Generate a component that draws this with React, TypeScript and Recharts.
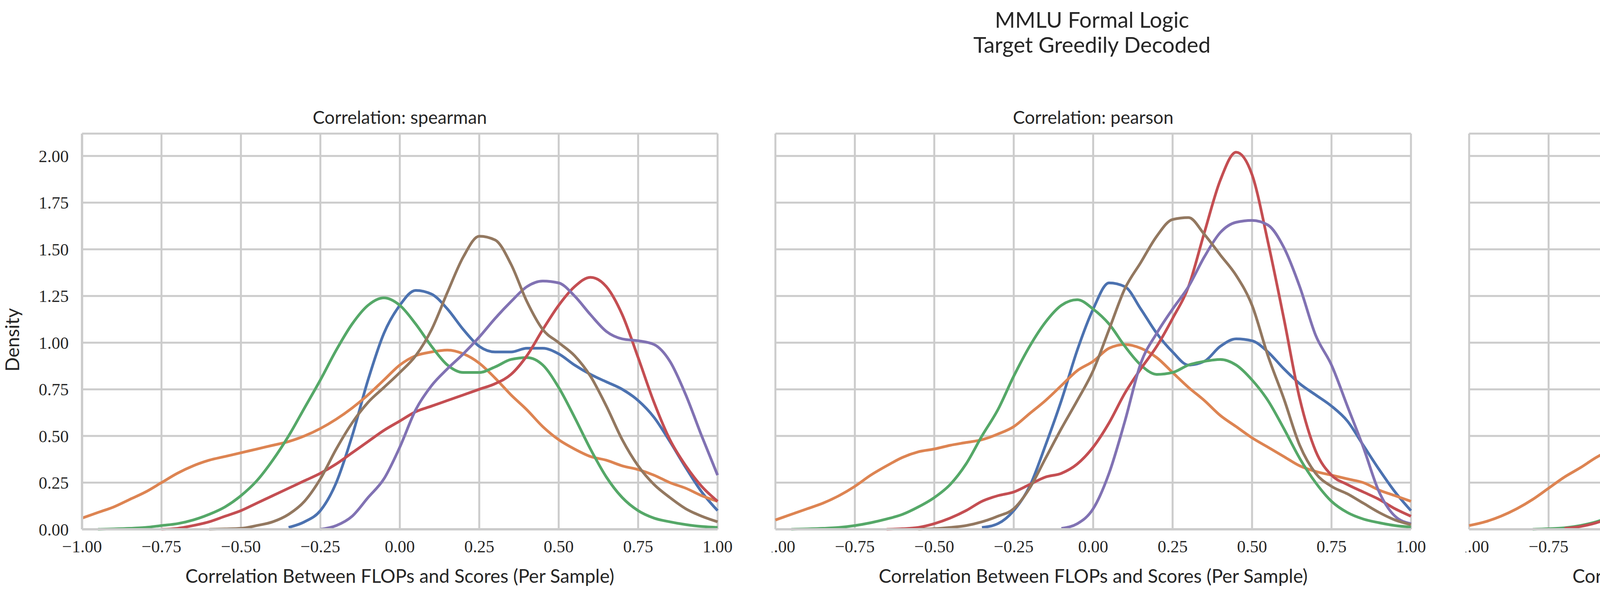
import React from "react"
import { LineChart, Line, XAxis, YAxis, CartesianGrid } from "recharts"

// x grid shared by every density curve: -1.00 .. 1.00 in 0.05 steps
const XS = Array.from({ length: 41 }, (_, i) => Math.round((-1 + i * 0.05) * 100) / 100)
const X_TICKS = [-1, -0.75, -0.5, -0.25, 0, 0.25, 0.5, 0.75, 1]
const Y_TICKS = [0, 0.25, 0.5, 0.75, 1, 1.25, 1.5, 1.75, 2]

const pad = (n: number, vals: number[]) => [...Array(n).fill(null), ...vals]

const SERIES = [
  { key: "cerebras", label: "Cerebras (Param. and Data Scaling)", color: "#4C72B0" },
  { key: "incite", label: "INCITE 7B Param. (Data Scaling)", color: "#DD8452" },
  { key: "amber", label: "LLM360 Amber 7B Tokens (Param Scaling)", color: "#55A868" },
  { key: "olmo", label: "OLMo 7B Param. (Data Scaling)", color: "#C44E52" },
  { key: "pythia12", label: "Pythia 12B Param. (Data Scaling)", color: "#8172B3" },
  { key: "pythia300", label: "Pythia 300B Tokens (Param. Scaling)", color: "#937860" },
]

// spearman
const SP_CEREBRAS = pad(13, [0.01, 0.04, 0.1, 0.25, 0.5, 0.8, 1.05, 1.2, 1.28, 1.26, 1.18, 1.07, 0.98, 0.95, 0.95, 0.97, 0.97, 0.94, 0.88, 0.83, 0.79, 0.75, 0.69, 0.6, 0.47, 0.33, 0.2, 0.1])
const SP_INCITE = [0.06, 0.09, 0.12, 0.16, 0.2, 0.25, 0.3, 0.34, 0.37, 0.39, 0.41, 0.43, 0.45, 0.47, 0.5, 0.54, 0.59, 0.65, 0.72, 0.8, 0.88, 0.93, 0.95, 0.96, 0.94, 0.89, 0.81, 0.72, 0.64, 0.55, 0.48, 0.43, 0.39, 0.37, 0.34, 0.32, 0.29, 0.25, 0.22, 0.18, 0.15]
const SP_AMBER = pad(1, [0, 0.002, 0.005, 0.01, 0.02, 0.03, 0.05, 0.08, 0.12, 0.18, 0.26, 0.37, 0.5, 0.65, 0.8, 0.96, 1.1, 1.2, 1.24, 1.2, 1.1, 0.98, 0.88, 0.84, 0.84, 0.87, 0.91, 0.92, 0.88, 0.76, 0.6, 0.43, 0.28, 0.17, 0.1, 0.06, 0.04, 0.025, 0.015, 0.01])
const SP_OLMO = pad(5, [0, 0.005, 0.02, 0.04, 0.07, 0.1, 0.14, 0.18, 0.22, 0.26, 0.3, 0.35, 0.41, 0.47, 0.53, 0.58, 0.63, 0.66, 0.69, 0.72, 0.75, 0.78, 0.83, 0.93, 1.07, 1.2, 1.3, 1.35, 1.3, 1.15, 0.92, 0.68, 0.48, 0.34, 0.23, 0.15])
const SP_PYTHIA12 = pad(15, [0, 0.02, 0.07, 0.17, 0.27, 0.44, 0.64, 0.77, 0.86, 0.94, 1.03, 1.13, 1.22, 1.3, 1.33, 1.32, 1.25, 1.15, 1.06, 1.02, 1.01, 0.99, 0.9, 0.72, 0.5, 0.29])
const SP_PYTHIA300 = pad(8, [0, 0.002, 0.005, 0.02, 0.04, 0.08, 0.15, 0.27, 0.43, 0.57, 0.68, 0.76, 0.84, 0.93, 1.07, 1.27, 1.46, 1.57, 1.55, 1.42, 1.22, 1.07, 1.0, 0.93, 0.82, 0.66, 0.48, 0.34, 0.24, 0.17, 0.11, 0.07, 0.04])

// pearson
const PE_CEREBRAS = pad(13, [0.01, 0.03, 0.1, 0.23, 0.45, 0.69, 0.96, 1.18, 1.32, 1.3, 1.18, 1.05, 0.95, 0.88, 0.9, 0.98, 1.02, 1.01, 0.95, 0.86, 0.78, 0.72, 0.66, 0.58, 0.45, 0.32, 0.2, 0.1])
const PE_INCITE = [0.05, 0.08, 0.11, 0.14, 0.18, 0.23, 0.29, 0.34, 0.385, 0.415, 0.43, 0.45, 0.465, 0.48, 0.51, 0.55, 0.62, 0.69, 0.77, 0.85, 0.9, 0.97, 0.99, 0.97, 0.92, 0.84, 0.76, 0.69, 0.61, 0.55, 0.49, 0.44, 0.39, 0.34, 0.31, 0.29, 0.27, 0.25, 0.21, 0.18, 0.15]
const PE_AMBER = pad(1, [0, 0.002, 0.005, 0.01, 0.02, 0.035, 0.055, 0.08, 0.12, 0.17, 0.24, 0.35, 0.5, 0.64, 0.82, 0.98, 1.11, 1.2, 1.23, 1.18, 1.1, 0.98, 0.88, 0.83, 0.84, 0.88, 0.9, 0.91, 0.88, 0.8, 0.69, 0.54, 0.38, 0.25, 0.15, 0.09, 0.055, 0.035, 0.02, 0.012])
const PE_OLMO = pad(7, [0, 0.003, 0.01, 0.03, 0.06, 0.1, 0.15, 0.18, 0.2, 0.24, 0.28, 0.3, 0.35, 0.44, 0.57, 0.73, 0.86, 0.98, 1.13, 1.3, 1.59, 1.87, 2.02, 1.9, 1.54, 1.13, 0.7, 0.42, 0.29, 0.24, 0.2, 0.16, 0.11, 0.07])
const PE_PYTHIA12 = pad(18, [0.005, 0.03, 0.11, 0.3, 0.58, 0.89, 1.05, 1.18, 1.3, 1.46, 1.59, 1.645, 1.655, 1.63, 1.51, 1.3, 1.04, 0.88, 0.66, 0.44, 0.2, 0.07, 0.03])
const PE_PYTHIA300 = pad(9, [0, 0.003, 0.01, 0.02, 0.04, 0.07, 0.11, 0.22, 0.38, 0.54, 0.69, 0.85, 1.07, 1.29, 1.43, 1.57, 1.66, 1.67, 1.58, 1.47, 1.36, 1.2, 0.93, 0.7, 0.45, 0.3, 0.23, 0.19, 0.14, 0.09, 0.05, 0.025])

// kendall
const KE_CEREBRAS = pad(14, [0.01, 0.04, 0.13, 0.35, 0.74, 1.15, 1.4, 1.47, 1.41, 1.29, 1.17, 1.08, 1.09, 1.11, 1.1, 1.04, 0.97, 0.91, 0.85, 0.77, 0.66, 0.48, 0.3, 0.16, 0.07, 0.03, 0.01])
const KE_INCITE = [0.02, 0.04, 0.07, 0.11, 0.16, 0.22, 0.28, 0.33, 0.385, 0.43, 0.465, 0.49, 0.51, 0.53, 0.57, 0.6, 0.66, 0.72, 0.8, 0.89, 0.98, 1.05, 1.08, 1.07, 1.02, 0.92, 0.8, 0.69, 0.58, 0.52, 0.46, 0.43, 0.4, 0.37, 0.33, 0.3, 0.25, 0.19, 0.14, 0.1, 0.06]
const KE_AMBER = pad(4, [0, 0.003, 0.008, 0.02, 0.04, 0.07, 0.11, 0.17, 0.26, 0.36, 0.54, 0.77, 0.99, 1.23, 1.37, 1.45, 1.42, 1.3, 1.12, 1.01, 0.98, 1.01, 1.06, 1.08, 1.02, 0.89, 0.69, 0.47, 0.29, 0.17, 0.1, 0.056, 0.03, 0.015, 0.008, 0.004, 0.002])
const KE_OLMO = pad(6, [0.005, 0.015, 0.035, 0.065, 0.1, 0.145, 0.195, 0.245, 0.3, 0.355, 0.42, 0.49, 0.58, 0.66, 0.7, 0.73, 0.765, 0.795, 0.83, 0.87, 0.93, 1.05, 1.24, 1.43, 1.53, 1.52, 1.39, 1.12, 0.86, 0.58, 0.33, 0.16, 0.07, 0.034, 0.02])
const KE_PYTHIA12 = pad(16, [0, 0.03, 0.1, 0.25, 0.48, 0.7, 0.85, 0.96, 1.08, 1.21, 1.34, 1.48, 1.53, 1.5, 1.37, 1.26, 1.2, 1.18, 1.12, 0.96, 0.67, 0.36, 0.13, 0.034, 0.01])
const KE_PYTHIA300 = pad(10, [0, 0.005, 0.02, 0.055, 0.13, 0.25, 0.44, 0.66, 0.8, 0.9, 0.99, 1.11, 1.36, 1.59, 1.78, 1.82, 1.67, 1.42, 1.21, 1.11, 0.99, 0.8, 0.54, 0.33, 0.22, 0.13, 0.063, 0.026, 0.01, 0.004, 0.001])

const PANELS = [
  { title: "Correlation: spearman", left: 0, showY: true, cols: [SP_CEREBRAS, SP_INCITE, SP_AMBER, SP_OLMO, SP_PYTHIA12, SP_PYTHIA300] },
  { title: "Correlation: pearson", left: 1975, showY: false, cols: [PE_CEREBRAS, PE_INCITE, PE_AMBER, PE_OLMO, PE_PYTHIA12, PE_PYTHIA300] },
  { title: "Correlation: kendall", left: 3751, showY: false, cols: [KE_CEREBRAS, KE_INCITE, KE_AMBER, KE_OLMO, KE_PYTHIA12, KE_PYTHIA300] },
]

const SANS = "Lato, 'Open Sans', sans-serif"
const SERIF = "'Liberation Serif', 'DejaVu Serif', serif"
const GRID = "#cccccc"
const fmt = (v: number) => (v < 0 ? "\u2212" : "") + Math.abs(v).toFixed(2)

function Panel({ title, left, showY, cols }: (typeof PANELS)[number]) {
  const data = XS.map((x, i) => {
    const row: Record<string, number | null> = { x }
    SERIES.forEach((s, j) => (row[s.key] = cols[j][i]))
    return row
  })
  const yW = showY ? 200 : 0
  const plotLeft = left + yW + 10
  return (
    <>
      <div style={{ position: "absolute", left: plotLeft, width: 1627, top: 272, textAlign: "center", fontFamily: SANS, fontSize: 46, color: "#262626" }}>
        {title}
      </div>
      <div style={{ position: "absolute", left: plotLeft, width: 1627, top: 1445, textAlign: "center", fontFamily: SANS, fontSize: 48, color: "#262626" }}>
        Correlation Between FLOPs and Scores (Per Sample)
      </div>
      <div style={{ position: "absolute", left, top: 0 }}>
        <LineChart width={yW + 10 + 1627 + 40} height={1440} data={data} margin={{ top: 342, right: 40, bottom: 0, left: 10 }}>
          <CartesianGrid stroke={GRID} strokeWidth={5} />
          <XAxis
            dataKey="x"
            type="number"
            domain={[-1, 1]}
            ticks={X_TICKS}
            interval={0}
            tickFormatter={fmt}
            height={85}
            tickLine={false}
            tickMargin={22}
            axisLine={{ stroke: GRID, strokeWidth: 6 }}
            tick={{ fontFamily: SERIF, fontSize: 44, fill: "#262626" }}
          />
          <YAxis
            type="number"
            domain={[0, 2.12]}
            ticks={Y_TICKS}
            interval={0}
            tickFormatter={(v: number) => v.toFixed(2)}
            width={yW}
            hide={!showY}
            tickLine={false}
            tickMargin={28}
            axisLine={{ stroke: GRID, strokeWidth: 6 }}
            tick={{ fontFamily: SERIF, fontSize: 44, fill: "#262626" }}
          />
          {SERIES.map((s) => (
            <Line key={s.key} dataKey={s.key} type="monotone" stroke={s.color} strokeWidth={7} dot={false} isAnimationActive={false} />
          ))}
        </LineChart>
      </div>
    </>
  )
}

export default function App() {
  return (
    <div style={{ position: "absolute", left: 0, top: 0, width: 6541, height: 1536, background: "#fff", color: "#262626", fontFamily: SANS }}>
      <div style={{ position: "absolute", left: 0, width: 5383 + 208, top: 18, textAlign: "center", fontSize: 56, lineHeight: "64px" }}>
        MMLU Formal Logic
        <br />
        Target Greedily Decoded
      </div>
      <div style={{ position: "absolute", left: 0, top: 870, transform: "translate(0,-50%) rotate(-90deg)", transformOrigin: "center", fontSize: 48, width: 60, display: "flex", justifyContent: "center" }}>
        <span style={{ whiteSpace: "nowrap" }}>Density</span>
      </div>
      {PANELS.map((p) => (
        <Panel key={p.title} {...p} />
      ))}
      <div style={{ position: "absolute", left: 5430, top: 95, fontSize: 44 }}>
        <div style={{ textAlign: "center", marginBottom: 10 }}>Model Family</div>
        {SERIES.map((s) => (
          <div key={s.key} style={{ display: "flex", alignItems: "center", height: 67 }}>
            <span style={{ display: "inline-block", width: 95, height: 8, background: s.color, borderRadius: 3, marginRight: 42 }} />
            <span style={{ whiteSpace: "nowrap" }}>{s.label}</span>
          </div>
        ))}
      </div>
    </div>
  )
}
